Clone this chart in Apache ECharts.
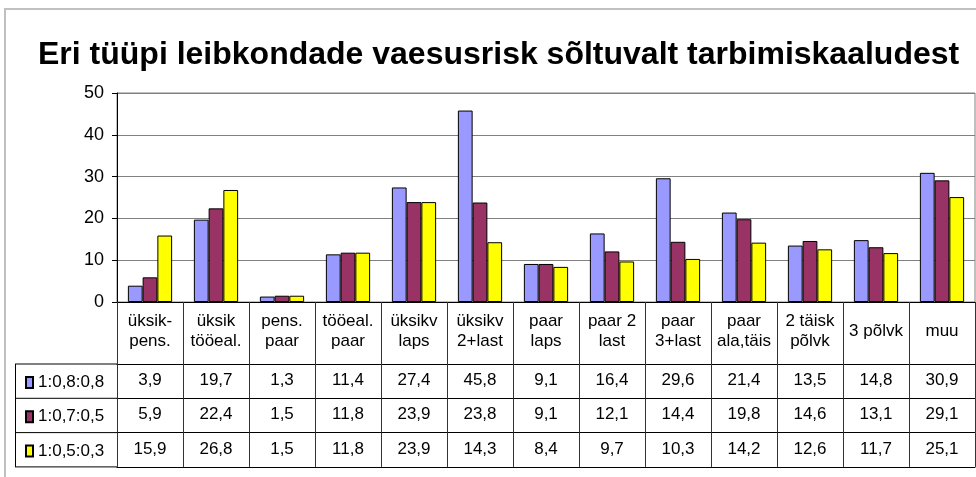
<!DOCTYPE html>
<html>
<head>
<meta charset="utf-8">
<script src="https://cdn.jsdelivr.net/npm/echarts@6/dist/echarts.min.js"></script>
<style>
  html, body { margin: 0; padding: 0; background: #fff; }
  #chart { width: 976px; height: 477px; }
</style>
</head>
<body>
<div id="chart"></div>
<script>
const categories = [
  'üksik-\npens.', 'üksik\ntööeal.', 'pens.\npaar', 'tööeal.\npaar', 'üksikv\nlaps',
  'üksikv\n2+last', 'paar\nlaps', 'paar 2\nlast', 'paar\n3+last', 'paar\nala,täis',
  '2 täisk\npõlvk', '3 põlvk', 'muu'
];
const seriesNames = ['1:0,8:0,8', '1:0,7:0,5', '1:0,5:0,3'];
const scale08 = [3.9, 19.7, 1.3, 11.4, 27.4, 45.8, 9.1, 16.4, 29.6, 21.4, 13.5, 14.8, 30.9];
const scale07 = [5.9, 22.4, 1.5, 11.8, 23.9, 23.8, 9.1, 12.1, 14.4, 19.8, 14.6, 13.1, 29.1];
const scale05 = [15.9, 26.8, 1.5, 11.8, 23.9, 14.3, 8.4, 9.7, 10.3, 14.2, 12.6, 11.7, 25.1];
const yTicks = [0, 10, 20, 30, 40, 50];

const colors = ['#9999FF', '#993366', '#FFFF00'];
const allValues = [scale08, scale07, scale05];
const font = 'Arial, "Liberation Sans", sans-serif';
const fmt = v => v.toFixed(1).replace('.', ',');
const rowH = 34.3;

const chart = echarts.init(document.getElementById('chart'));

// data table rows: one category axis per series, pushed down with offset
const rowAxes = allValues.map((vals, i) => ({
  type: 'category',
  position: 'bottom',
  offset: 62 + i * rowH,
  data: categories,
  axisLine: { show: true, lineStyle: { color: '#000', width: 1 } },
  axisTick: { show: true, length: rowH, lineStyle: { color: '#333' } },
  axisLabel: {
    margin: 8,
    interval: 0,
    fontFamily: font,
    fontSize: 17,
    color: '#000',
    formatter: (val, idx) => fmt(vals[idx])
  },
  splitLine: { show: false }
}));

const option = {
  animation: false,
  color: colors,
  title: {
    text: 'Eri tüüpi leibkondade vaesusrisk sõltuvalt tarbimiskaaludest',
    left: 33,
    top: 34,
    textStyle: { fontFamily: font, fontSize: 32, fontWeight: 'bold', color: '#000' }
  },
  legend: {
    orient: 'vertical',
    left: 20,
    top: 369,
    itemWidth: 7,
    itemHeight: 11,
    itemGap: rowH - 17,
    icon: 'rect',
    data: seriesNames,
    textStyle: { fontFamily: font, fontSize: 17, lineHeight: 17, color: '#000' }
  },
  grid: {
    left: 117, right: 1, top: 93, bottom: 175,
    show: true, borderColor: '#808080', borderWidth: 1
  },
  xAxis: [
    {
      type: 'category',
      position: 'bottom',
      data: categories,
      axisLine: { show: true, lineStyle: { color: '#000', width: 1 } },
      axisTick: { show: true, length: 62, lineStyle: { color: '#333' } },
      axisLabel: {
        margin: 9,
        interval: 0,
        fontFamily: font,
        fontSize: 17,
        lineHeight: 20,
        color: '#000',
        formatter: val => (val.indexOf('\n') < 0 ? '{one|' + val + '}' : val),
        rich: { one: { fontFamily: font, fontSize: 17, lineHeight: 40, color: '#000' } }
      }
    },
    ...rowAxes,
    {
      type: 'category',
      position: 'bottom',
      offset: 62 + 3 * rowH,
      data: categories,
      axisLine: { show: true, lineStyle: { color: '#000', width: 1 } },
      axisTick: { show: false },
      axisLabel: { show: false }
    }
  ],
  yAxis: {
    type: 'value',
    min: yTicks[0],
    max: yTicks[yTicks.length - 1],
    interval: 10,
    axisLine: { show: true, lineStyle: { color: '#000', width: 1 } },
    axisTick: { show: true, length: 5, lineStyle: { color: '#000' } },
    axisLabel: { margin: 13, fontFamily: font, fontSize: 18, color: '#000' },
    splitLine: { show: true, lineStyle: { color: '#808080', width: 1 } }
  },
  series: allValues.map((vals, i) => ({
    name: seriesNames[i],
    type: 'bar',
    xAxisIndex: 0,
    data: vals,
    barGap: '0%',
    barCategoryGap: '33%',
    itemStyle: { color: colors[i], borderColor: '#000', borderWidth: 1 }
  })),
  graphic: [
    // outer chart frame
    { type: 'rect', shape: { x: 5, y: 9, width: 1000, height: 500 },
      style: { fill: 'none', stroke: '#C0C0C0', lineWidth: 2 }, silent: true },
    // series-name column of the data table
    { type: 'line', shape: { x1: 15, y1: 364, x2: 117, y2: 364 }, style: { stroke: '#000', lineWidth: 1 } },
    { type: 'line', shape: { x1: 15, y1: 364 + rowH, x2: 117, y2: 364 + rowH }, style: { stroke: '#000', lineWidth: 1 } },
    { type: 'line', shape: { x1: 15, y1: 364 + 2 * rowH, x2: 117, y2: 364 + 2 * rowH }, style: { stroke: '#000', lineWidth: 1 } },
    { type: 'line', shape: { x1: 15, y1: 364 + 3 * rowH, x2: 117, y2: 364 + 3 * rowH }, style: { stroke: '#000', lineWidth: 1 } },
    { type: 'line', shape: { x1: 15.5, y1: 364, x2: 15.5, y2: 364 + 3 * rowH }, style: { stroke: '#000', lineWidth: 1 } }
  ]
};

chart.setOption(option);
</script>
</body>
</html>
